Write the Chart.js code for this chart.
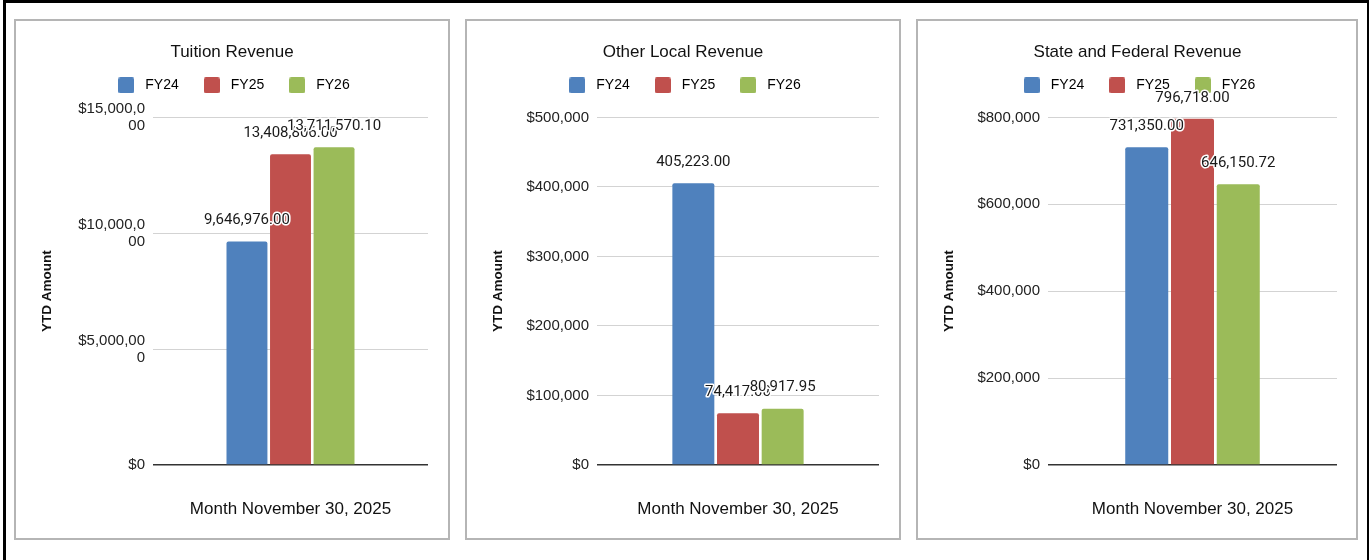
<!DOCTYPE html>
<html lang="en">
<head>
<meta charset="UTF-8">
<title>YTD Revenue</title>
<script src="https://cdn.jsdelivr.net/npm/chart.js"></script>
<style>
  body { margin: 0; background: #fff; }
  .frame { position: absolute; left: 3px; top: 0; width: 1366px; height: 620px; border: 3px solid #000; border-right-width: 2px; border-bottom: none; box-sizing: border-box; }
  .panel { position: absolute; top: 19px; height: 521px; border: 2px solid #b5b5b5; box-sizing: border-box; background: #fff; }
  .panel canvas { display: block; }
</style>
</head>
<body>
<div class="frame"></div>
<div class="panel" style="left:14px;width:436px"><canvas id="tuition" width="432" height="517"></canvas></div>
<div class="panel" style="left:465px;width:436px"><canvas id="otherLocal" width="432" height="517"></canvas></div>
<div class="panel" style="left:916px;width:442px"><canvas id="stateFederal" width="438" height="517"></canvas></div>
<script>
// data
const categories = ['Month November 30, 2025'];
const seriesNames = ['FY24', 'FY25', 'FY26'];
const seriesColors = ['#4f81bd', '#c0504d', '#9bbb59'];

const tuitionValues = [9646976.00, 13408806.00, 13711570.10];
const otherLocalValues = [405223.00, 74417.00, 80917.95];
const stateFederalValues = [731350.00, 796718.00, 646150.72];

// y axis ticks (min .. max, evenly stepped)
const tuitionTicks = [0, 5000000, 10000000, 15000000];
const otherLocalTicks = [0, 100000, 200000, 300000, 400000, 500000];
const stateFederalTicks = [0, 200000, 400000, 600000, 800000];

const tickFont = { family: '"Liberation Sans", Arial, sans-serif', size: 15, lineHeight: 1.15 };
const titleFont = { family: '"Liberation Sans", Arial, sans-serif', size: 17, weight: 'normal' };

// little square legend markers, drawn as images so the gap to the text can be set
function boxImage(color) {
    const c = document.createElement('canvas');
    c.width = 16; c.height = 16;
    const g = c.getContext('2d');
    g.fillStyle = color;
    g.beginPath();
    g.roundRect(0, 0, 16, 16, 2);
    g.fill();
    return c;
}
const legendBoxes = seriesColors.map(boxImage);

function money(v) {
    return '$' + v.toLocaleString('en-US');
}
// long tick labels wrap after 9 characters like in the sheet
function wrapTick(v) {
    const s = money(v);
    return s.length > 9 ? [s.slice(0, 9), s.slice(9)] : s;
}

const valueLabels = {
    id: 'valueLabels',
    afterDatasetsDraw(chart) {
        const ctx = chart.ctx;
        ctx.save();
        ctx.font = '15px Roboto, "Liberation Sans", sans-serif';
        ctx.textAlign = 'center';
        ctx.textBaseline = 'middle';
        ctx.lineJoin = 'round';
        chart.data.datasets.forEach((ds, i) => {
            chart.getDatasetMeta(i).data.forEach((bar, j) => {
                const txt = ds.data[j].toLocaleString('en-US', { minimumFractionDigits: 2, maximumFractionDigits: 2 });
                const y = bar.y - 21;
                ctx.strokeStyle = '#fff';
                ctx.lineWidth = 3;
                ctx.strokeText(txt, bar.x, y);
                ctx.fillStyle = '#1a1a1a';
                ctx.fillText(txt, bar.x, y);
            });
        });
        ctx.restore();
    }
};

function makeChart(id, title, values, ticks, yWidth, sidePad) {
    const datasets = seriesNames.map((name, i) => ({
        label: name,
        data: [values[i]],
        backgroundColor: seriesColors[i],
        borderRadius: 2,
        categoryPercentage: 0.475,
        barPercentage: 0.94
    }));

    return new Chart(document.getElementById(id), {
        type: 'bar',
        data: { labels: categories, datasets: datasets },
        options: {
            responsive: false,
            animation: false,
            layout: { padding: { left: 20, right: sidePad, top: 0, bottom: 0 } },
            plugins: {
                title: {
                    display: true,
                    text: title,
                    color: '#111',
                    font: titleFont,
                    padding: { top: 21, bottom: -5 }
                },
                // empty subtitle used as a spacer between legend and plot
                subtitle: {
                    display: true,
                    text: '',
                    weight: 500,
                    font: { size: 1, lineHeight: 1 },
                    padding: { top: 14, bottom: 0 }
                },
                legend: {
                    position: 'top',
                    labels: {
                        usePointStyle: true,
                        pointStyleWidth: 24,
                        padding: 21,
                        color: '#222',
                        font: { family: '"Liberation Sans", Arial, sans-serif', size: 14 },
                        generateLabels: chart => chart.data.datasets.map((ds, i) => ({
                            text: ds.label,
                            fillStyle: seriesColors[i],
                            strokeStyle: seriesColors[i],
                            lineWidth: 0,
                            pointStyle: legendBoxes[i],
                            hidden: !chart.isDatasetVisible(i),
                            datasetIndex: i
                        }))
                    }
                },
                tooltip: { enabled: false }
            },
            scales: {
                x: {
                    grid: { display: false, drawTicks: false },
                    border: { display: false },
                    ticks: { color: '#111', font: titleFont, padding: 34 },
                    afterFit: s => { s.height = 73; }
                },
                y: {
                    min: ticks[0],
                    max: ticks[ticks.length - 1],
                    ticks: {
                        stepSize: ticks[1] - ticks[0],
                        color: '#222',
                        font: tickFont,
                        padding: 8,
                        callback: v => wrapTick(v)
                    },
                    grid: {
                        drawTicks: false,
                        color: c => (c.tick && c.tick.value === 0) ? '#333333' : '#d3d3d3',
                        lineWidth: c => (c.tick && c.tick.value === 0) ? 1.5 : 1
                    },
                    border: { display: false },
                    title: {
                        display: true,
                        text: 'YTD Amount',
                        color: '#111',
                        font: { family: '"Liberation Sans", Arial, sans-serif', size: 13.5, weight: 'bold' },
                        padding: { top: 3, bottom: 0 }
                    },
                    afterFit: s => { s.width = yWidth; }
                }
            }
        },
        plugins: [valueLabels]
    });
}

makeChart('tuition', 'Tuition Revenue', tuitionValues, tuitionTicks, 117, 20);
makeChart('otherLocal', 'Other Local Revenue', otherLocalValues, otherLocalTicks, 110, 20);
makeChart('stateFederal', 'State and Federal Revenue', stateFederalValues, stateFederalTicks, 110, 19);
</script>
</body>
</html>
